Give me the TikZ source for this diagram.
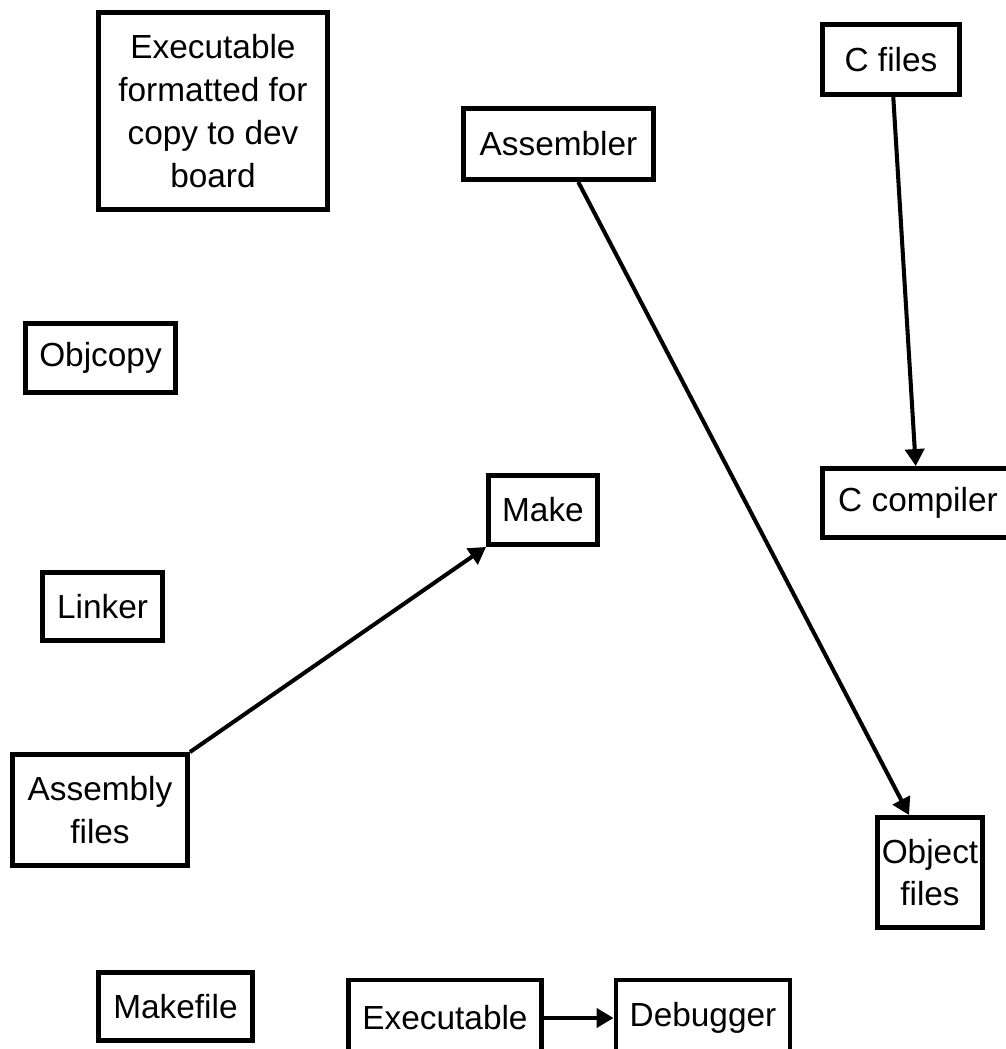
\documentclass[tikz,border=0pt]{standalone}
\usepackage{fontspec}
\setmainfont{Liberation Sans}
\usetikzlibrary{arrows.meta}

\begin{document}
\begin{tikzpicture}[
  x=0.02cm, y=-0.02cm,
  box/.style={draw=black, line width=2.8pt, fill=white, align=center, inner sep=0pt,
    font=\fontsize{19}{24.4}\selectfont},
  arr/.style={-{Triangle[length=0.34cm, width=0.38cm]}, line width=2.3pt, black}
]
  \clip (0,0) rectangle (1006,1049);

  \node[box, minimum width=4.58cm, minimum height=3.94cm] (board) at (213,111)
    {Executable\\formatted for\\copy to dev\\board};
  \node[box, minimum width=2.74cm, minimum height=1.40cm] (cfiles) at (891,59.5) {C files};
  \node[box, minimum width=3.80cm, minimum height=1.42cm] (asm) at (558.5,144) {Assembler};
  \node[box, minimum width=3.00cm, minimum height=1.38cm] (objcopy) at (100.5,358) {Objcopy};
  \node[box, minimum width=2.18cm, minimum height=1.38cm] (make) at (543,510) {Make};
  \node[box, minimum width=3.82cm, minimum height=1.38cm] (cc) at (918,503) {C compiler};
  \node[box, minimum width=2.40cm, minimum height=1.36cm] (linker) at (102.5,606.5) {Linker};
  \node[box, minimum width=3.50cm, minimum height=2.22cm] (asmfiles) at (100,810) {Assembly\\files};
  \node[box, minimum width=2.10cm, minimum height=2.20cm] (objfiles) at (930,872.5) {Object\\files};
  \node[box, minimum width=3.08cm, minimum height=1.36cm] (makefile) at (175.5,1006.5) {Makefile};
  \node[box, minimum width=3.86cm, minimum height=1.52cm] (exe) at (445,1018) {Executable};
  \node[box, minimum width=3.48cm, minimum height=1.52cm] (dbg) at (703,1018) {Debugger};

  \draw[arr] (cfiles) -- (cc);
  \draw[arr] (asm) -- (objfiles.110);
  \draw[arr] (asmfiles.north east) -- (make.south west);
  \draw[arr] (exe) -- (dbg);
\end{tikzpicture}
\end{document}
